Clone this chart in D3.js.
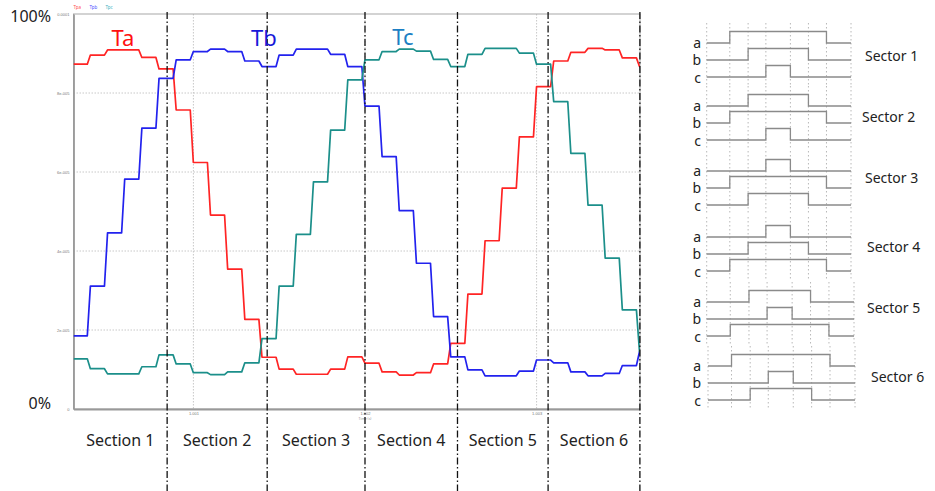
<!DOCTYPE html>
<html>
<head>
<meta charset="utf-8">
<script src="https://cdn.jsdelivr.net/npm/d3@7"></script>
<style>
  body { margin: 0; background: #fff; }
  svg { display: block; font-family: "Noto Sans", "Open Sans", sans-serif; }
</style>
</head>
<body>
<div id="viz"></div>
<script>
// sampled on-times (units of 1e-5 s), one value per 100 us sample
const sampleStart = 1.0003817;
const samplePeriod = 1e-4;
const taValues = [8.73, 8.96, 9.09, 9.09, 8.90, 8.61, 7.57, 6.24, 4.91, 3.54, 2.27, 1.31, 1.01, 0.88, 0.88, 1.01, 1.32, 1.16,
  0.94, 0.86, 0.92, 1.14, 1.66, 2.91, 4.26, 5.59, 6.89, 8.16, 8.81, 9.03, 9.13, 9.09, 8.89, 8.67];
const tbValues = [1.85, 3.11, 4.46, 5.82, 7.11, 8.37, 8.84, 9.05, 9.11, 9.05, 8.81, 8.67, 8.96, 9.11, 9.11, 8.98, 8.67, 7.67,
  6.39, 5.02, 3.69, 2.34, 1.32, 0.99, 0.84, 0.84, 0.96, 1.24, 1.17, 0.94, 0.84, 0.90, 1.10, 1.45];
const tcValues = [1.27, 1.02, 0.89, 0.89, 1.07, 1.37, 1.14, 0.92, 0.87, 0.94, 1.17, 1.78, 3.11, 4.42, 5.75, 7.06, 8.33, 8.84,
  9.05, 9.11, 9.06, 8.85, 8.67, 8.98, 9.13, 9.13, 9.01, 8.73, 7.78, 6.47, 5.16, 3.82, 2.51, 1.45];

const seriesNames = ["Tpa", "Tpb", "Tpc"];
const bigLabels = ["Ta", "Tb", "Tc"];
const yTicks = [0, 2, 4, 6, 8, 10];
const yTickLabels = ["0", "2e-005", "4e-005", "6e-005", "8e-005", "0.0001"];
const xTicks = [1.001, 1.002, 1.003];
const sectionBounds = [1.000847, 1.00143, 1.002, 1.002539, 1.003067, 1.003602];
const sectionNames = ["Section 1", "Section 2", "Section 3", "Section 4", "Section 5", "Section 6"];

// right panel: switching instants within one PWM period (0..100) and which
// instant each phase a,b,c turns on at, per sector
const switchTimes = [0, 16, 28.7, 41, 58, 70.5, 83, 100];
const sectorNames = ["Sector 1", "Sector 2", "Sector 3", "Sector 4", "Sector 5", "Sector 6"];
const sectorLevels = [[1, 2, 3], [2, 1, 3], [3, 1, 2], [3, 2, 1], [2, 3, 1], [1, 3, 2]];
const phaseNames = ["a", "b", "c"];

const W = 935, H = 491;
const colors = ["#ff2424", "#2222ee", "#1b8f8a"];
const labelColors = ["#ff1010", "#1818d8", "#1c7fc4"];
const legendColors = ["#ff5050", "#5050ff", "#40b0c0"];

const svg = d3.select("#viz").append("svg")
  .attr("width", W).attr("height", H);

const plot = {left: 73.5, right: 640, top: 14, bottom: 409};
const x = d3.scaleLinear().domain([1.0003013, 1.0036026]).range([plot.left, plot.right]);
const y = d3.scaleLinear().domain([0, 10]).range([plot.bottom, plot.top]);
const ramp = 1.8e-5;

svg.append("clipPath").attr("id", "clip")
  .append("rect")
  .attr("x", plot.left).attr("y", 0)
  .attr("width", plot.right - plot.left).attr("height", plot.bottom + 5);

// grid
svg.append("g").selectAll("line")
  .data(yTicks.slice(1, -1))
  .join("line")
  .attr("x1", plot.left).attr("x2", plot.right)
  .attr("y1", d => y(d)).attr("y2", d => y(d))
  .style("stroke", "#c8c8c8").style("stroke-dasharray", "1.5,1.5");

svg.append("g").selectAll("line")
  .data(xTicks)
  .join("line")
  .attr("x1", d => x(d)).attr("x2", d => x(d))
  .attr("y1", plot.top).attr("y2", plot.bottom)
  .style("stroke", "#c8c8c8").style("stroke-dasharray", "1.5,1.5");

// frame
svg.append("rect")
  .attr("x", plot.left).attr("y", plot.top)
  .attr("width", plot.right - plot.left).attr("height", plot.bottom - plot.top)
  .style("fill", "none").style("stroke", "#a8a8a8").style("stroke-width", 1);

// axes
const yAxis = svg.append("g")
  .attr("transform", `translate(${plot.left},0)`)
  .call(d3.axisLeft(y).tickValues(yTicks).tickFormat((d, i) => yTickLabels[i]).tickSize(0).tickPadding(4));
const xAxis = svg.append("g")
  .attr("transform", `translate(0,${plot.bottom})`)
  .call(d3.axisBottom(x).tickValues(xTicks).tickFormat(d3.format(".3f")).tickSize(0).tickPadding(3));
[yAxis, xAxis].forEach(a => {
  a.select(".domain").style("stroke", "#999").style("stroke-width", 1.8);
  a.selectAll("text").style("font-size", "4px").style("fill", "#777");
});

svg.append("text")
  .attr("x", x(1.002)).attr("y", 420)
  .attr("text-anchor", "middle")
  .style("font-size", "3.5px").style("fill", "#999")
  .text("Time (s)");

// legend
seriesNames.forEach((name, i) => {
  svg.append("text")
    .attr("x", plot.left + i * 16).attr("y", 9)
    .style("font-size", "4.5px").style("fill", legendColors[i])
    .text(name);
});

// waveforms
function stepPoints(values) {
  const pts = [];
  values.forEach((v, i) => {
    const t1 = i === 0 ? x.domain()[0] : sampleStart + (i - 1) * samplePeriod + ramp;
    const t2 = sampleStart + i * samplePeriod;
    pts.push([t1, v], [t2, v]);
  });
  return pts;
}

const line = d3.line().x(d => x(d[0])).y(d => y(d[1]));
const waves = svg.append("g").attr("clip-path", "url(#clip)");
[taValues, tbValues, tcValues].forEach((vals, i) => {
  waves.append("path")
    .datum(stepPoints(vals))
    .attr("d", line)
    .style("fill", "none")
    .style("stroke", colors[i])
    .style("stroke-width", 1.7)
    .style("stroke-linejoin", "round");
});

// section boundaries
svg.append("g").selectAll("line")
  .data(sectionBounds)
  .join("line")
  .attr("x1", d => x(d)).attr("x2", d => x(d))
  .attr("y1", 12).attr("y2", H)
  .style("stroke", "#111").style("stroke-width", 1.3)
  .style("stroke-dasharray", "7,2.5,1.5,2.5");

const edges = [x.domain()[0]].concat(sectionBounds);
sectionNames.forEach((name, i) => {
  svg.append("text")
    .attr("x", (x(edges[i]) + x(edges[i + 1])) / 2)
    .attr("y", 446)
    .attr("text-anchor", "middle")
    .style("font-size", "16px").style("fill", "#222")
    .text(name);
});

// big labels
const bigLabelAt = [[123, 46], [264, 46], [403, 45]];
bigLabels.forEach((name, i) => {
  svg.append("text")
    .attr("x", bigLabelAt[i][0]).attr("y", bigLabelAt[i][1])
    .attr("text-anchor", "middle")
    .style("font-size", "22px").style("fill", labelColors[i])
    .text(name);
});

svg.append("text").attr("x", 51).attr("y", 22).attr("text-anchor", "end")
  .style("font-size", "16px").style("fill", "#222").text("100%");
svg.append("text").attr("x", 51).attr("y", 409).attr("text-anchor", "end")
  .style("font-size", "16px").style("fill", "#222").text("0%");

// sector panels
const blockY = [43, 106, 171, 237, 302, 366];
const blockX = [[706.7, 851], [706.7, 851], [706.7, 851], [706.7, 851], [706.7, 854], [708, 855]];
const sectorLabelAt = [[865, 61], [862, 122], [865, 183], [867, 252], [867, 313], [871, 382]];
const rowGap = 17, pulse = 11.5;

sectorNames.forEach((name, s) => {
  const sx = d3.scaleLinear().domain([0, 100]).range(blockX[s]);
  const g = svg.append("g");
  const base = blockY[s];

  g.selectAll("line.tick")
    .data(switchTimes)
    .join("line")
    .attr("class", "tick")
    .attr("x1", d => sx(d)).attr("x2", d => sx(d))
    .attr("y1", base - 20).attr("y2", base + 42)
    .style("stroke", "#b8b8b8").style("stroke-dasharray", "1.5,2.5");

  sectorLevels[s].forEach((k, p) => {
    const low = base + p * rowGap, high = low - pulse;
    const on = switchTimes[k], off = switchTimes[7 - k];
    const pts = [[0, low], [on, low], [on, high], [off, high], [off, low], [100, low]];
    g.append("path")
      .datum(pts)
      .attr("d", d3.line().x(d => sx(d[0])).y(d => d[1]))
      .style("fill", "none").style("stroke", "#8a8a8a").style("stroke-width", 1.3);

    g.append("text")
      .attr("x", 701).attr("y", low + 4.5 + p * 0.8)
      .attr("text-anchor", "end")
      .style("font-size", "14px").style("fill", "#222")
      .text(phaseNames[p]);
  });

  g.append("text")
    .attr("x", sectorLabelAt[s][0]).attr("y", sectorLabelAt[s][1])
    .style("font-size", "14px").style("fill", "#222")
    .text(name);
});
</script>
</body>
</html>
